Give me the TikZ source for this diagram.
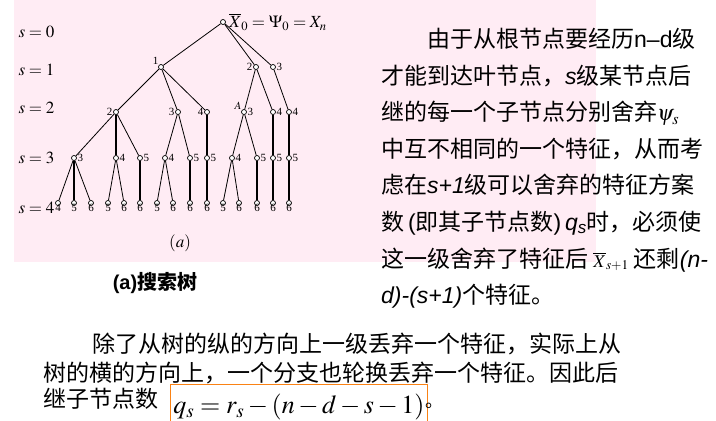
\documentclass[tikz,border=0pt]{standalone}
\usepackage{mathptmx}
\usepackage{fontspec}
\setmainfont{Liberation Serif}
\newfontfamily\cjk{Noto Sans CJK SC}
\newfontfamily\lat{Liberation Sans}
\usetikzlibrary{positioning}
\definecolor{pinkbg}{RGB}{255,236,244}
\definecolor{boxorange}{RGB}{250,130,20}
\newcommand{\la}[1]{{\lat #1}}
\newcommand{\li}[1]{{\lat\itshape #1}}
\newcommand{\sm}[2][18]{{\fontsize{#1}{#1}\selectfont$#2$}}

\begin{document}
\begin{tikzpicture}[
        x=1pt, y=-1pt,
        vx/.style={
          circle, draw, fill=white,
          inner sep=0pt, minimum size=5pt, line width=0.7pt
        },
        every label/.style={
          font=\fontsize{11}{11}\selectfont, inner sep=0.5pt
        },
        br/.style={line width=0.8pt},
        trunk/.style={line width=2pt},
        lvl/.style={anchor=west, font=\fontsize{17}{17}\selectfont},
        txt/.style={anchor=base west, inner sep=0pt, font=\cjk\fontsize{23}{23}\selectfont}
      ]
        \useasboundingbox (0,0) rectangle (716,421);
        \fill[pinkbg] (14,0) rectangle (596,262);

        % levels
        \foreach \s/\y in {0/32, 1/70, 2/108, 3/158, 4/208}
          \node[lvl] (s\s) at (15,\y) {$s=\s$};

        % tree
        \node[vx] (r) at (223,22) {};
        \node[anchor=west, font=\fontsize{17}{17}\selectfont] (root) at (r.east) {$\overline{X}_0=\Psi_0=X_n$};

        \node[vx,label=above left:1] (a1) at (161,67) {};
        \node[vx,label=left:2] (a2) at (256,67) {};
        \node[vx,label=right:3] (a3) at (273,67) {};

        \node[vx,label=left:2] (b1) at (116,112) {};
        \node[vx,label=left:3] (b2) at (178,112) {};
        \node[vx,label=left:4] (b3) at (207,112) {};
        \node[vx,label=above left:$A$,label=right:3] (b4) at (244,112) {};
        \node[vx,label=right:4] (b5) at (273,112) {};
        \node[vx,label=right:4] (b6) at (289,112) {};

        \foreach \n/\x/\t in {1/74/3, 2/116/4, 3/140/5, 4/165/4, 5/190/5,
                              6/207/5, 7/232/4, 8/257/5, 9/273/5, 10/289/5}
          \node[vx,label=right:\t] (c\n) at (\x,158) {};

        \foreach \n/\x/\t in {1/58/4, 2/74/5, 3/91/6, 4/108/5, 5/124/6,
                              6/140/6, 7/157/5, 8/173/6, 9/190/6, 10/207/6,
                              11/223/5, 12/239/6, 13/257/6, 14/273/6, 15/289/6}
          \node[vx,label={[yshift=2pt]below:\t}] (d\n) at (\x,203) {};

        \foreach \p/\c in {r/a1, r/a2, r/a3, a1/b1, a1/b2, a1/b3, a2/b4, a2/b5, a3/b6,
                           b1/c1, b1/c3, b2/c4, b2/c5, b4/c7, b4/c8,
                           c1/d1, c1/d3, c2/d4, c2/d5, c4/d7, c4/d8, c7/d11, c7/d12}
          \draw[br] (\p) -- (\c);
        \foreach \p/\c in {b1/c2, b3/c6, b5/c9, b6/c10,
                           c1/d2, c3/d6, c6/d10, c8/d13, c9/d14, c10/d15}
          \draw[trunk] (\p) -- (\c);
        \draw[trunk, line width=2.6pt] (c5) -- (d9);

        \node[font=\fontsize{17}{17}\selectfont] (cap) at (180,243) {$(a)$};
        \node[font=\cjk\bfseries\fontsize{20}{20}\selectfont] (title) at (155,283) {{\lat\bfseries (a)}搜索树};

        % right text
        \foreach \t [count=\i from 0] in {
            {\hspace{2em}由于从根节点要经历\la{n–d}级},
            {才能到达叶节点，\li{s}级某节点后},
            {继的每一个子节点分别舍弃\sm[22]{\psi_s}},
            {中互不相同的一个特征，从而考},
            {虑在\li{s+1}级可以舍弃的特征方案},
            {数{\lat\,(}即其子节点数{\lat)\,}{\lat\itshape q\textsubscript{s}}时，必须使},
            {这一级舍弃了特征后 \sm{\overline{X}_{s+1}} 还剩\li{(n-}},
            {\li{d)-(s+1)}个特征。}}
          \node[txt] (p\i) at (381,{47.5+36.6*\i}) {\t};

        % bottom text
        \node[txt] (q0) at (92,352) {除了从树的纵的方向上一级丢弃一个特征，实际上从};
        \node[txt] (q1) at (43,381) {树的横的方向上，一个分支也轮换丢弃一个特征。因此后};
        \node[txt] (q2) at (43,407) {继子节点数};
        \node[draw=boxorange, line width=0.8pt, anchor=north west,
              minimum height=46pt, inner xsep=3pt,
              font=\fontsize{26}{26}\selectfont] (eq) at (170,384) {$q_s=r_s-(n-d-s-1)$};
        \node[anchor=base west, inner sep=0pt, font=\cjk\fontsize{18}{18}\selectfont] (dot) at ([xshift=-3pt]eq.east |- q2.base) {。};
      \end{tikzpicture}
\end{document}
